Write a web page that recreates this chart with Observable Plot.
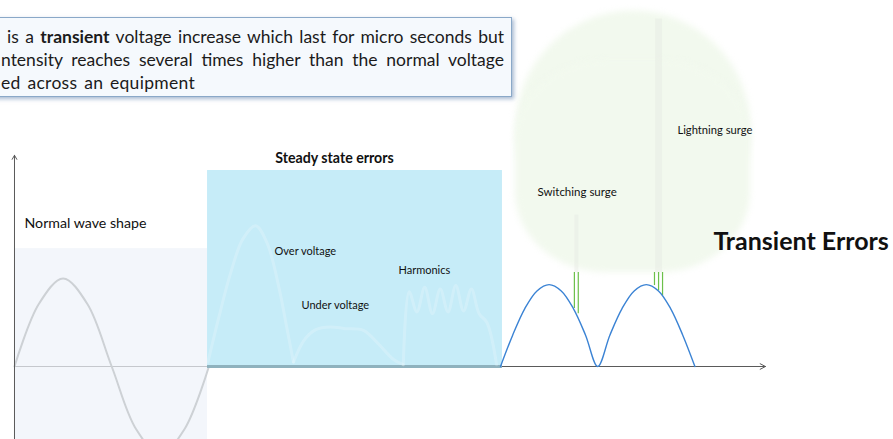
<!DOCTYPE html>
<html>
<head>
<meta charset="utf-8">
<script src="https://cdn.jsdelivr.net/npm/d3@7"></script>
<script src="https://cdn.jsdelivr.net/npm/@observablehq/plot@0.6"></script>
<style>
  html, body { margin: 0; padding: 0; background: #fff; overflow: hidden; }
  #wrap { position: relative; width: 893px; height: 439px; overflow: hidden; }
  #chart svg g.glow { filter: blur(3px); }
  #note {
    position: absolute; left: -20px; top: 17px; width: 530px; height: 78px;
    background: #f5f9fd; border: 1.5px solid #8aa8c8;
    box-shadow: 2px 2px 4px rgba(110,140,180,0.6);
    font-family: Lato, "Open Sans", sans-serif; font-size: 17.5px; color: #1b1b1b;
  }
  #note .ln { position: absolute; height: 23px; line-height: 23px; white-space: nowrap; }
</style>
</head>
<body>
<div id="wrap">
  <div id="chart"></div>
  <div id="note"></div>
</div>
<script>
// ---- data (time in ms, voltage in per-unit) ----
const normalT = [0, 2.5, 5, 7.5, 10, 12.5, 15, 17.5, 20];
const normalV = [0, 0.71, 1, 0.71, 0, -0.71, -1, -0.71, 0];

const overT = [19.9, 21, 22.2, 23.5, 24.8, 26, 27.2, 28, 28.7];
const overV = [0.05, 0.55, 1.05, 1.45, 1.6, 1.4, 0.9, 0.45, 0.05];
const underT = [28.7, 29.8, 31, 32.5, 34, 35.9, 37.5, 39, 40];
const underV = [0.05, 0.3, 0.42, 0.45, 0.43, 0.41, 0.25, 0.08, 0.02];
const harmT = [40, 40.6, 41.4, 42.2, 43, 43.8, 44.6, 45.4, 46.2, 47, 47.8, 48.6, 49.6];
const harmV = [0.02, 0.85, 0.62, 0.9, 0.6, 0.88, 0.62, 0.92, 0.63, 0.88, 0.6, 0.5, 0.02];

const humpT = [50, 51.25, 52.5, 53.75, 55, 56.25, 57.5, 58.75, 60, 61.25, 62.5, 63.75, 65, 66.25, 67.5, 68.75, 70];
const humpV = [0, 0.356, 0.658, 0.859, 0.93, 0.859, 0.658, 0.356, 0, 0.356, 0.658, 0.859, 0.93, 0.859, 0.658, 0.356, 0];

const spikeT = [57.6, 58.0, 65.84, 66.26, 66.67];
const spikeBase = [0.66, 0.6, 0.92, 0.86, 0.8];
const spikeTop = [1.72, 1.72, 3.95, 3.95, 3.95];

const noteLines = [
  'is a <b>transient</b> voltage increase which last for micro seconds but',
  'ntensity reaches several times higher than the normal voltage',
  'ed across an equipment'
];

// ---- build tables ----
const zip = (xs, ys) => xs.map((t, i) => ({t, v: ys[i]}));
const normal = zip(normalT, normalV);
const over = zip(overT, overV);
const under = zip(underT, underV);
const harm = zip(harmT, harmV);
const hump = zip(humpT, humpV);
const spikes = spikeT.map((t, i) => ({t, b: spikeBase[i], top: spikeTop[i]}));

const X0 = 0, XEND = 77.26, YBOT = -0.83, YTOP = 2.4;
const BOX = {x1: 19.86, x2: 50.2, y1: 0, y2: 2.227};
const GLOW = {cx: 63.63, cy: 2.71, r: 117.5, x1: 51.54, x2: 75.72, y1: 1.068, y2: 3.477};
const GLOW_FILL = "#f2f9ee";

const chart = Plot.plot({
  width: 893, height: 439, margin: 0,
  x: {domain: [-1.44, 90.43], axis: null},
  y: {domain: [-0.8295, 4.159], axis: null},
  style: {fontFamily: "Lato, 'Open Sans', sans-serif", background: "white", color: "#111"},
  marks: [
    Plot.arrow([0], {x1: X0, x2: XEND, y1: 0, y2: 0, stroke: "#5a5a5a", strokeWidth: 1, headLength: 9, headAngle: 55}),
    Plot.rect([0], {x1: 0.05, x2: BOX.x1, y1: YBOT, y2: 1.34, fill: "#eef3f9", fillOpacity: 0.72}),
    Plot.line(normal, {x: "t", y: "v", curve: "catmull-rom", stroke: "#cdd1d5", strokeWidth: 2}),
    Plot.rect([0], {x1: BOX.x1, x2: BOX.x2, y1: BOX.y1, y2: BOX.y2, fill: "#c6ecf8"}),
    Plot.ruleY([0], {x1: BOX.x1, x2: BOX.x2, stroke: "#8fb2be", strokeWidth: 3}),
    Plot.line(over, {x: "t", y: "v", curve: "catmull-rom", stroke: "white", strokeOpacity: 0.2, strokeWidth: 3}),
    Plot.line(under, {x: "t", y: "v", curve: "catmull-rom", stroke: "white", strokeOpacity: 0.2, strokeWidth: 3}),
    Plot.line(harm, {x: "t", y: "v", curve: "catmull-rom", stroke: "white", strokeOpacity: 0.2, strokeWidth: 3}),
    Plot.dot([0], {x: GLOW.cx, y: GLOW.cy, r: GLOW.r, fill: GLOW_FILL, stroke: null, className: "glow"}),
    Plot.rect([0], {x1: GLOW.x1, x2: GLOW.x2, y1: GLOW.y1, y2: GLOW.y2, rx: 90, ry: 80, fill: GLOW_FILL, className: "glow"}),
    Plot.ruleX(spikes, {x: "t", y1: "b", y2: GLOW.y1, stroke: "#6cc04a", strokeWidth: 1.2}),
    Plot.ruleX(spikes.filter(d => d.top > 3).slice(0, 1), {x: 66.26, y1: GLOW.y1, y2: "top", stroke: "#e2e6df", strokeWidth: 7, strokeOpacity: 0.35}),
    Plot.ruleX(spikes.filter(d => d.top < 3).slice(0, 1), {x: 57.8, y1: GLOW.y1, y2: "top", stroke: "#e2e6df", strokeWidth: 4, strokeOpacity: 0.35}),
    Plot.line(hump, {x: "t", y: "v", curve: "catmull-rom", stroke: "#3b83d4", strokeWidth: 1.4}),
    Plot.arrow([0], {x1: X0, x2: X0, y1: YBOT, y2: YTOP, stroke: "#5a5a5a", strokeWidth: 1, headLength: 7, headAngle: 60}),
    Plot.text(["Normal wave shape"], {x: 1.03, y: 1.625, textAnchor: "start", fontSize: 14.2}),
    Plot.text(["Steady state errors"], {x: 32.92, y: 2.364, fontSize: 14.2, fontWeight: "bold"}),
    Plot.text(["Over voltage"], {x: 26.75, y: 1.307, textAnchor: "start", fontSize: 11}),
    Plot.text(["Under voltage"], {x: 29.53, y: 0.693, textAnchor: "start", fontSize: 11}),
    Plot.text(["Harmonics"], {x: 39.5, y: 1.09, textAnchor: "start", fontSize: 11}),
    Plot.text(["Switching surge"], {x: 53.8, y: 1.977, textAnchor: "start", fontSize: 11.5}),
    Plot.text(["Lightning surge"], {x: 68.2, y: 2.68, textAnchor: "start", fontSize: 11.2}),
    Plot.text(["Transient Errors"], {x: 71.9, y: 1.41, textAnchor: "start", fontSize: 25, fontWeight: "bold"})
  ]
});
document.getElementById("chart").appendChild(chart);

// ---- note box (first two lines justified by word spacing) ----
const note = document.getElementById("note");
const lineLayout = [
  {left: 26, top: 7, width: 497, just: true},
  {left: 20, top: 30, width: 503, just: true},
  {left: 20, top: 53, width: 400, just: false}
];
noteLines.forEach((html, i) => {
  const d = document.createElement("div");
  const L = lineLayout[i];
  d.className = "ln";
  d.style.left = L.left + "px"; d.style.top = L.top + "px";
  d.innerHTML = html;
  note.appendChild(d);
  if (L.just) {
    const natural = d.getBoundingClientRect().width;
    const spaces = (d.textContent.match(/ /g) || []).length;
    d.style.wordSpacing = ((L.width - natural) / spaces) + "px";
  } else {
    d.style.letterSpacing = "0.3px";
    d.style.wordSpacing = "2px";
  }
});
</script>
</body>
</html>
